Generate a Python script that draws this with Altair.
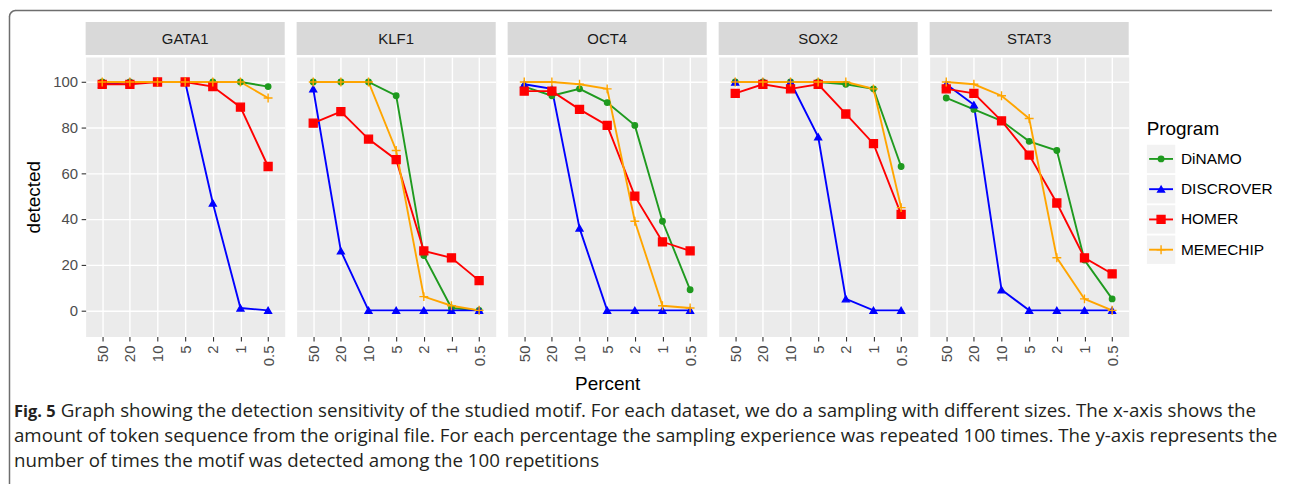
import math
import altair as alt
import pandas as pd

TFS = ["GATA1", "KLF1", "OCT4", "SOX2", "STAT3"]
PROGRAMS = ["DiNAMO", "DISCROVER", "HOMER", "MEMECHIP"]
PERCENTS = ["50", "20", "10", "5", "2", "1", "0.5"]
COLORS = ["#1f9a1f", "#0000FF", "#FF0000", "#FFA500"]
SHAPES = ["circle", "triangle-up", "square", "M-1,0H1M0,-1V1"]
SIZES = [30, 80, 72, 110]
Y_TICKS = [0, 20, 40, 60, 80, 100]

GATA1 = {
    "DiNAMO": [100, 100, 100, 100, 100, 100, 98],
    "DISCROVER": [99, 100, 100, 100, 47, 1, 0],
    "HOMER": [99, 99, 100, 100, 98, 89, 63],
    "MEMECHIP": [100, 100, 100, 100, 100, 100, 93],
}
KLF1 = {
    "DiNAMO": [100, 100, 100, 94, 24, 1, 0],
    "DISCROVER": [97, 26, 0, 0, 0, 0, 0],
    "HOMER": [82, 87, 75, 66, 26, 23, 13],
    "MEMECHIP": [100, 100, 100, 70, 6, 2, 0],
}
OCT4 = {
    "DiNAMO": [98, 94, 97, 91, 81, 39, 9],
    "DISCROVER": [99, 97, 36, 0, 0, 0, 0],
    "HOMER": [96, 96, 88, 81, 50, 30, 26],
    "MEMECHIP": [100, 100, 99, 97, 39, 2, 1],
}
SOX2 = {
    "DiNAMO": [100, 100, 100, 100, 99, 97, 63],
    "DISCROVER": [100, 100, 100, 76, 5, 0, 0],
    "HOMER": [95, 99, 97, 99, 86, 73, 42],
    "MEMECHIP": [100, 100, 100, 100, 100, 97, 45],
}
STAT3 = {
    "DiNAMO": [93, 88, 83, 74, 70, 22, 5],
    "DISCROVER": [99, 90, 9, 0, 0, 0, 0],
    "HOMER": [97, 95, 83, 68, 47, 23, 16],
    "MEMECHIP": [100, 99, 94, 84, 23, 5, 0],
}

CAPTION_BOLD = "Fig. 5"
CAPTION_LINES = [
    "Graph showing the detection sensitivity of the studied motif. For each dataset, we do a sampling with different sizes. The x-axis shows the",
    "amount of token sequence from the original file. For each percentage the sampling experience was repeated 100 times. The y-axis represents the",
    "number of times the motif was detected among the 100 repetitions",
]

DATA = {"GATA1": GATA1, "KLF1": KLF1, "OCT4": OCT4, "SOX2": SOX2, "STAT3": STAT3}
rows = []
for tf in TFS:
    for prog in PROGRAMS:
        for pct, v in zip(PERCENTS, DATA[tf][prog]):
            rows.append({"tf": tf, "program": prog, "percent": pct, "detected": v})
df = pd.DataFrame(rows)

FONT = "Liberation Sans"
CAP_FONT = "Open Sans"
PW, PH, SH = 200, 281, 33
BOTTOM_EXTRA = 65  # reserved space below the panels for axis labels / title
NOVIEW = alt.ViewBackground(stroke="transparent")

cscale = alt.Scale(domain=PROGRAMS, range=COLORS)
shscale = alt.Scale(domain=PROGRAMS, range=SHAPES)
szscale = alt.Scale(domain=PROGRAMS, range=SIZES)


def make_panel(i, tf):
    d = df[df.tf == tf]
    x = alt.X(
        "percent:N",
        sort=PERCENTS,
        scale=alt.Scale(type="point", domain=PERCENTS, padding=0.6),
        axis=alt.Axis(
            title="Percent" if i == 2 else None,
            labelAngle=270, labelFont=FONT, labelFontSize=15, labelColor="#4D4D4D",
            labelPadding=4, tickColor="#333333", tickSize=4.5, tickWidth=1.1,
            domain=False, grid=True, gridColor="white", gridWidth=1.4,
            titleFont=FONT, titleFontSize=19, titleFontWeight="normal",
            titleColor="black", titlePadding=9,
        ),
    )
    if i == 0:
        yaxis = alt.Axis(
            values=Y_TICKS, title="detected", labelFont=FONT, labelFontSize=15,
            labelColor="#4D4D4D", labelPadding=3.5, tickColor="#333333",
            tickSize=4.5, tickWidth=1.1, domain=False, grid=True,
            gridColor="white", gridWidth=1.4, titleFont=FONT, titleFontSize=19,
            titleFontWeight="normal", titleColor="black", titlePadding=9,
        )
    else:
        yaxis = alt.Axis(
            values=Y_TICKS, title=None, labels=False, ticks=False, domain=False,
            grid=True, gridColor="white", gridWidth=1.4,
        )
    y = alt.Y("detected:Q", scale=alt.Scale(domain=[-11.5, 111], nice=False, zero=False), axis=yaxis)
    base = alt.Chart(d)
    lines = base.mark_line(strokeWidth=1.9).encode(
        x=x, y=y, color=alt.Color("program:N", scale=cscale, legend=None)
    )
    pts = base.mark_point(filled=True, opacity=1, strokeWidth=1.4).encode(
        x=x, y=y,
        color=alt.Color("program:N", scale=cscale, legend=None),
        stroke=alt.Stroke("program:N", scale=cscale, legend=None),
        shape=alt.Shape("program:N", scale=shscale, legend=None),
        size=alt.Size("program:N", scale=szscale, legend=None),
    )
    layers = [lines, pts]
    if i == 2:
        # invisible spacer fixing the bottom extent of the chart row
        spacer = alt.Chart(pd.DataFrame({"s": [0]})).mark_rule(
            color="white", opacity=0, strokeWidth=0.1
        ).encode(x=alt.value(PW / 2), x2=alt.value(PW / 2 + 1), y=alt.value(PH + BOTTOM_EXTRA))
        layers.append(spacer)
    panel = alt.layer(*layers).properties(
        width=PW, height=PH, view=alt.ViewBackground(fill="#EBEBEB", stroke="transparent")
    )
    sd = pd.DataFrame({"tf": [tf]})
    strip_bg = alt.Chart(sd).mark_rect(color="#D9D9D9").encode(
        x=alt.value(0), x2=alt.value(PW), y=alt.value(0), y2=alt.value(SH)
    )
    strip_txt = alt.Chart(sd).mark_text(font=FONT, fontSize=15, color="#1A1A1A", baseline="middle").encode(
        x=alt.value(PW / 2), y=alt.value(SH / 2 + 1), text="tf:N"
    )
    strip = alt.layer(strip_bg, strip_txt).properties(width=PW, height=SH, view=NOVIEW)
    return alt.vconcat(strip, panel, spacing=0)


panels = [make_panel(i, tf) for i, tf in enumerate(TFS)]

# legend
OX = 6
leg_df = pd.DataFrame({"program": PROGRAMS})
ly = alt.Y("program:N", scale=alt.Scale(type="point", domain=PROGRAMS, range=[137.5, 228.7], padding=0), axis=None)
lbase = alt.Chart(leg_df)
l_bg = lbase.mark_point(shape="square", filled=True, color="#F2F2F2", size=28.5 ** 2, opacity=1).encode(
    x=alt.value(OX + 14.5), y=ly
)
l_rule = lbase.mark_rule(strokeWidth=1.9).encode(
    x=alt.value(OX + 2.5), x2=alt.value(OX + 26.5), y=ly,
    color=alt.Color("program:N", scale=cscale, legend=None),
)
l_pts = lbase.mark_point(filled=True, opacity=1, strokeWidth=1.4).encode(
    x=alt.value(OX + 14.5), y=ly,
    color=alt.Color("program:N", scale=cscale, legend=None),
    stroke=alt.Stroke("program:N", scale=cscale, legend=None),
    shape=alt.Shape("program:N", scale=shscale, legend=None),
    size=alt.Size("program:N", scale=szscale, legend=None),
)
l_txt = lbase.mark_text(align="left", baseline="middle", font=FONT, fontSize=15.5, color="black").encode(
    x=alt.value(OX + 34.5), y=ly, text="program:N"
)
l_title = alt.Chart(pd.DataFrame({"t": ["Program"]})).mark_text(
    align="left", baseline="alphabetic", font=FONT, fontSize=19, color="black"
).encode(x=alt.value(OX), y=alt.value(113), text="t:N")
legend = alt.layer(l_bg, l_rule, l_pts, l_txt, l_title).properties(width=140, height=PH + SH, view=NOVIEW)

main = alt.hconcat(*panels, legend, spacing=10).resolve_scale(x="independent", y="independent")

# caption (origin aligned with first panel's plot area)
CAP_LEFT = -72
FRAME_LEFT = -76.5
FRAME_TOP = -393.5
FRAME_R = 6
cap_layers = []
for k, (txt, xoff, ybase) in enumerate(zip(CAPTION_LINES, [CAP_LEFT + 47, CAP_LEFT, CAP_LEFT], [14.7, 39.7, 65.0])):
    cap_layers.append(
        alt.Chart(pd.DataFrame({"line": [txt]})).mark_text(
            align="left", baseline="alphabetic", font=CAP_FONT, fontSize=18.8, color="#231F20"
        ).encode(x=alt.value(xoff), y=alt.value(ybase), text="line:N")
    )
cap_layers.append(
    alt.Chart(pd.DataFrame({"t": [CAPTION_BOLD]})).mark_text(
        align="left", baseline="alphabetic", font=CAP_FONT, fontSize=16.5, fontWeight="bold", color="#231F20"
    ).encode(x=alt.value(CAP_LEFT), y=alt.value(14.7), text="t:N")
)
fd = pd.DataFrame({"f": [0]})
frame_top = alt.Chart(fd).mark_rule(color="#6E6E6E", strokeWidth=1.5).encode(
    x=alt.value(FRAME_LEFT + FRAME_R), x2=alt.value(1192), y=alt.value(FRAME_TOP)
)
frame_left = alt.Chart(fd).mark_rule(color="#6E6E6E", strokeWidth=1.5).encode(
    x=alt.value(FRAME_LEFT), y=alt.value(FRAME_TOP + FRAME_R), y2=alt.value(82)
)
frame_corner = alt.Chart(fd).mark_arc(
    fill="transparent", stroke="#6E6E6E", strokeWidth=1.5, strokeJoin="round",
    radius=FRAME_R, radius2=FRAME_R, theta=1.5 * math.pi, theta2=2 * math.pi,
).encode(x=alt.value(FRAME_LEFT + FRAME_R), y=alt.value(FRAME_TOP + FRAME_R))
cap_layers += [frame_top, frame_left, frame_corner]
caption = alt.layer(*cap_layers).properties(width=1100, height=70, view=NOVIEW)

chart = alt.vconcat(main, caption, spacing=-395).properties(
    padding={"left": 0, "top": 0, "right": 0, "bottom": 0}
).configure_view(strokeWidth=0).configure(font=FONT)

chart.save("out.html", embed_options={"renderer": "svg", "actions": False})
